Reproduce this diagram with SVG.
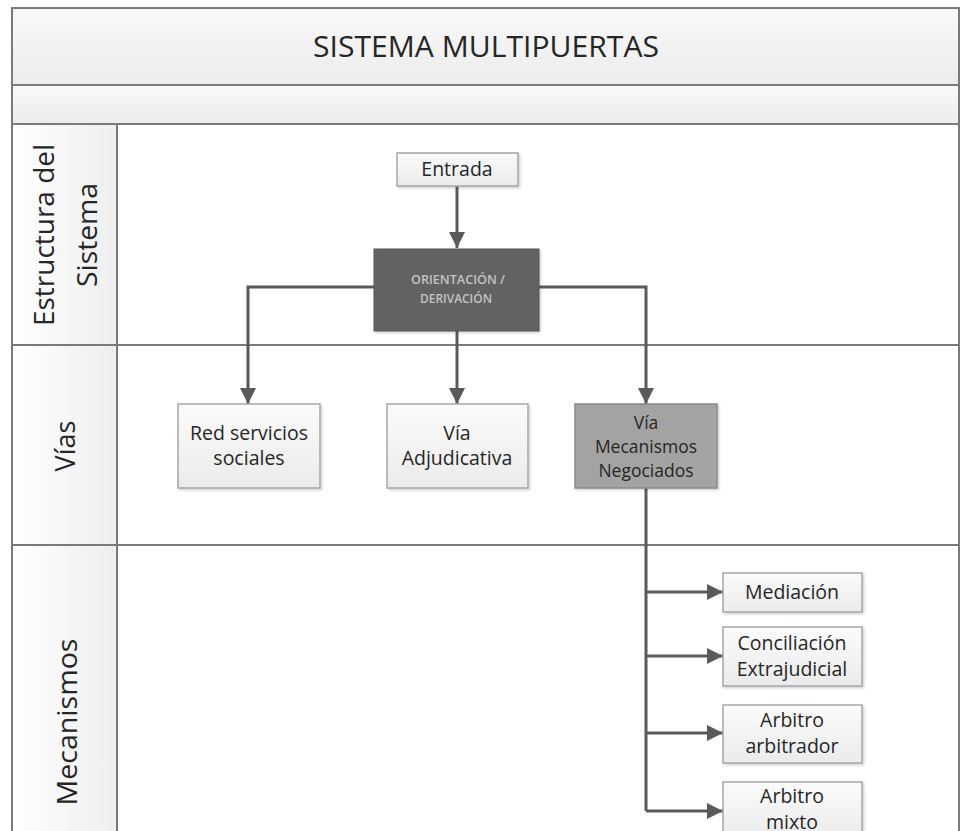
<svg xmlns="http://www.w3.org/2000/svg" width="962" height="831" viewBox="0 0 962 831">
<defs>
<linearGradient id="gBand" x1="0" y1="0" x2="0" y2="1"><stop offset="0" stop-color="#f9f9f9"/><stop offset="1" stop-color="#ececec"/></linearGradient>
<linearGradient id="gCol" x1="0" y1="0" x2="1" y2="0"><stop offset="0" stop-color="#ffffff"/><stop offset="1" stop-color="#eeeeee"/></linearGradient>
<linearGradient id="gBox" x1="0" y1="0" x2="0" y2="1"><stop offset="0" stop-color="#fbfbfb"/><stop offset="1" stop-color="#ebebeb"/></linearGradient>
<marker id="arr" viewBox="0 0 10 10" refX="10" refY="5" markerWidth="5.5" markerHeight="5.5" orient="auto" markerUnits="strokeWidth"><path d="M0,0 L10,5 L0,10 z" fill="#5a5a5a"/></marker>
<filter id="sh" x="-10%" y="-10%" width="125%" height="130%"><feDropShadow dx="1.5" dy="1.5" stdDeviation="1" flood-color="#000" flood-opacity="0.18"/></filter>
</defs>
<style>
.frame{fill:none;stroke:#7a7a7a;stroke-width:2}
.lbl{font-family:"Open Sans","Liberation Sans",sans-serif;fill:#262626;text-anchor:middle}
.box{fill:url(#gBox);stroke:#a6a6a6;stroke-width:1.5;filter:url(#sh)}
.t{font-family:"Open Sans","Liberation Sans",sans-serif;font-size:19.5px;fill:#262626;text-anchor:middle}
.s{font-size:17.5px}
.o{font-family:"Open Sans","Liberation Sans",sans-serif;font-size:12.5px;font-weight:600;fill:#c4c4c4;text-anchor:middle}
.conn{fill:none;stroke:#5a5a5a;stroke-width:3;marker-end:url(#arr)}
.line{fill:none;stroke:#5a5a5a;stroke-width:3}
</style>
<rect width="962" height="831" fill="#ffffff"/>
<g id="pool">
<rect x="12" y="8" width="947" height="77" fill="url(#gBand)"/>
<rect x="12" y="85" width="947" height="39" fill="url(#gBand)"/>
<rect x="12" y="124" width="105" height="720" fill="url(#gCol)"/>
<path class="frame" d="M12,840 V8 H959 V840 M12,85 H959 M12,124 H959 M117,124 V840 M12,345 H959 M12,545 H959"/>
<text class="lbl" x="486" y="57" font-size="29" textLength="346" lengthAdjust="spacingAndGlyphs">SISTEMA MULTIPUERTAS</text>
<text class="lbl" font-size="27" transform="translate(54,235) rotate(-90)" textLength="182" lengthAdjust="spacingAndGlyphs">Estructura del</text>
<text class="lbl" font-size="27" transform="translate(97,235) rotate(-90)" textLength="104" lengthAdjust="spacingAndGlyphs">Sistema</text>
<text class="lbl" font-size="27" transform="translate(75,446) rotate(-90)">Vías</text>
<text class="lbl" font-size="27" transform="translate(77,722) rotate(-90)" textLength="167" lengthAdjust="spacingAndGlyphs">Mecanismos</text>
</g>
<g id="connectors">
<path class="conn" d="M457,186 V248"/>
<path class="conn" d="M374,287 H248 V404"/>
<path class="conn" d="M457,331 V404"/>
<path class="conn" d="M539,287 H646 V404"/>
<path class="line" d="M646,488 V811"/>
<path class="conn" d="M646,592 H723"/>
<path class="conn" d="M646,656 H723"/>
<path class="conn" d="M646,733 H723"/>
<path class="conn" d="M646,811 H723"/>
</g>
<g id="entrada"><rect class="box" x="397" y="153" width="121" height="33"/><text class="t" x="457" y="176">Entrada</text></g>
<g id="orientacion"><rect x="374" y="249" width="165" height="82" fill="#626262" stroke="#555" stroke-width="1" filter="url(#sh)"/><text class="o" x="458" y="284" textLength="94" lengthAdjust="spacingAndGlyphs">ORIENTACIÓN /</text><text class="o" x="456" y="303" textLength="72" lengthAdjust="spacingAndGlyphs">DERIVACIÓN</text></g>
<g id="red"><rect class="box" x="178" y="404" width="142" height="84"/><text class="t" x="249" y="440">Red servicios</text><text class="t" x="249" y="465">sociales</text></g>
<g id="adjudicativa"><rect class="box" x="387" y="404" width="141" height="84"/><text class="t" x="457" y="440">Vía</text><text class="t" x="457" y="465">Adjudicativa</text></g>
<g id="negociados"><rect x="575" y="404" width="142" height="84" fill="#a3a3a3" stroke="#8a8a8a" stroke-width="1.5" filter="url(#sh)"/><text class="t s" x="646" y="429">Vía</text><text class="t s" x="646" y="453">Mecanismos</text><text class="t s" x="646" y="477">Negociados</text></g>
<g id="mediacion"><rect class="box" x="723" y="573" width="139" height="39"/><text class="t" x="792" y="599">Mediación</text></g>
<g id="conciliacion"><rect class="box" x="723" y="627" width="139" height="59"/><text class="t" x="792" y="650">Conciliación</text><text class="t" x="792" y="676">Extrajudicial</text></g>
<g id="arbitrador"><rect class="box" x="723" y="705" width="139" height="58"/><text class="t" x="792" y="727">Arbitro</text><text class="t" x="792" y="753">arbitrador</text></g>
<g id="mixto"><rect class="box" x="723" y="782" width="139" height="58"/><text class="t" x="792" y="803">Arbitro</text><text class="t" x="792" y="829">mixto</text></g>
</svg>
